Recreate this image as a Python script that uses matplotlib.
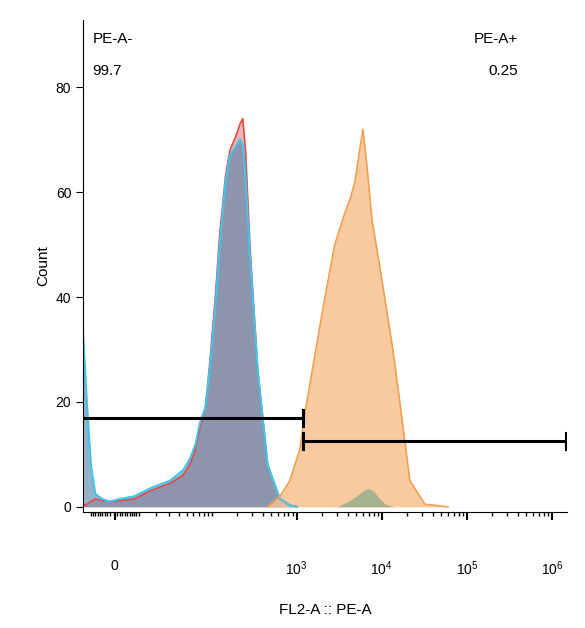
import numpy as np
import matplotlib
matplotlib.use("Agg")
import matplotlib.pyplot as plt

plt.rcParams["font.family"] = ["Liberation Sans", "DejaVu Sans"]
plt.rcParams["mathtext.default"] = "regular"

# histogram data (FL2-A value, count)
blue_x = [-14, -12, -10, -8, -5, -2, 2, 8, 16, 31, 45, 54, 64, 72, 84, 94, 110, 124, 145, 164, 196, 215, 232, 250, 281, 348, 455, 634, 830, 1000]
blue_y = [33, 20, 8, 2.5, 1.5, 1, 1.5, 2, 3.5, 5, 7, 9, 12, 16, 19, 26, 38, 50, 62, 67, 69, 70, 69, 63, 48, 26, 8, 1.5, 0.3, 0]
red_x = [-14, -12, -10, -8, -5, -2, 2, 8, 16, 31, 45, 54, 64, 72, 84, 94, 110, 124, 145, 164, 196, 215, 232, 250, 281, 348, 455, 634, 830, 1000]
red_y = [0, 0.5, 1, 1.5, 1.2, 1, 1.2, 1.5, 3, 4.5, 6, 8, 11, 15, 19, 27, 40, 52, 63, 68, 71, 73, 74, 68, 50, 26, 8, 1.5, 0.3, 0]
orange_x = [455, 634, 830, 1090, 1250, 1600, 2150, 2800, 3680, 4300, 4830, 5500, 6000, 6600, 7640, 9000, 10800, 13500, 16300, 21400, 32200, 60000]
orange_y = [0, 2, 5, 11, 18, 28, 40, 50, 56, 59, 62, 68, 72, 66, 55, 48, 40, 30, 20, 5, 0.5, 0]
green_x = [3000, 4000, 5000, 6000, 7000, 8000, 9500, 11000, 14000]
green_y = [0, 1, 2, 3, 3.5, 3, 1.5, 0.5, 0]

C = 14.5
def fwd(x):
    return np.arcsinh(np.asarray(x, float) / C)
def inv(y):
    return C * np.sinh(np.asarray(y, float))

fig = plt.figure(figsize=(5.85, 6.28), dpi=100)
ax = fig.add_axes([0.142, 0.185, 0.827, 0.783])
ax.set_xscale("function", functions=(fwd, inv))

ax.fill_between(red_x, red_y, color="#d9787c", alpha=0.55, lw=0)
ax.plot(red_x, red_y, color="#e8474a", lw=1.2)
ax.fill_between(blue_x, blue_y, color="#4f7fa8", alpha=0.6, lw=0)
ax.plot(blue_x, blue_y, color="#3ec6e8", lw=1.5)
ax.fill_between(orange_x, orange_y, color="#f9c08f", alpha=0.85, lw=0)
ax.plot(orange_x, orange_y, color="#f0a050", lw=1.2)
ax.fill_between(green_x, green_y, color="#8fae8a", alpha=0.8, lw=0)

# gates
g = dict(color="black", lw=2.2)
ax.plot([-14, 1200], [17, 17], **g)
ax.plot([1200, 1200], [15.5, 18.5], **g)
ax.plot([1200, 1.45e6], [12.5, 12.5], **g)
ax.plot([1200, 1200], [11, 14], **g)
ax.plot([1.45e6, 1.45e6], [11, 14], **g)

ax.text(0.02, 0.975, "PE-A-", transform=ax.transAxes, va="top", fontsize=11)
ax.text(0.02, 0.91, "99.7", transform=ax.transAxes, va="top", fontsize=11)
ax.text(0.9, 0.975, "PE-A+", transform=ax.transAxes, va="top", ha="right", fontsize=11)
ax.text(0.9, 0.91, "0.25", transform=ax.transAxes, va="top", ha="right", fontsize=11)

ax.set_xlim(-14, 1.5e6)
ax.set_ylim(-0.95, 92.8)
ax.set_yticks([0, 20, 40, 60, 80])
ax.set_xticks([0, 1e3, 1e4, 1e5, 1e6])
ax.set_xticklabels(["0", "$10^3$", "$10^4$", "$10^5$", "$10^6$"])
minors = []
for d in range(0, 6):
    for m in range(2, 10):
        minors.append(m * 10 ** d)
minors += [-v for v in [2, 3, 4, 5, 6, 7, 8, 9, 10]]
minors += [1, 10, 100]
ax.set_xticks(minors, minor=True)
ax.tick_params(axis="x", which="major", length=6, width=1.5, pad=28, labelsize=10)
ax.tick_params(axis="x", which="minor", length=3, width=1)
ax.tick_params(axis="y", labelsize=10, length=5)
ax.spines["top"].set_visible(False)
ax.spines["right"].set_visible(False)
ax.set_xlabel("FL2-A :: PE-A", fontsize=11, labelpad=18)
ax.set_ylabel("Count", fontsize=11)

fig.savefig("out.png", dpi=100)
